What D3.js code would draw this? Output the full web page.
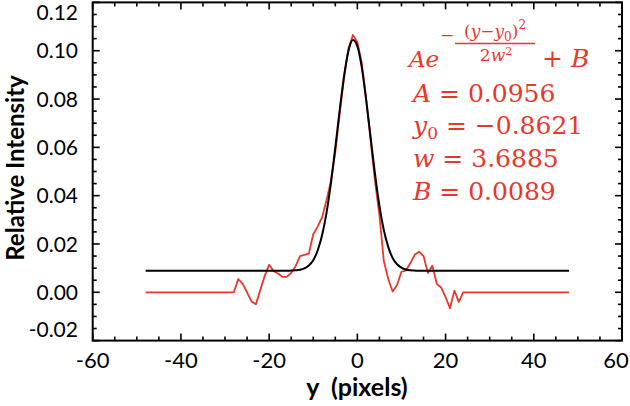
<!DOCTYPE html>
<html><head><meta charset="utf-8">
<script src="https://cdn.jsdelivr.net/npm/d3@7"></script>
<style>body{margin:0;background:#fff}svg{display:block}</style>
</head><body>
<script>
// ---- data ----
const xTickValues = [-60, -40, -20, 0, 20, 40, 60];
const xTickLabels = ["-60", "-40", "-20", "0", "20", "40", "60"];
const yTickValues = [-0.02, 0, 0.02, 0.04, 0.06, 0.08, 0.10, 0.12];
const yTickLabels = ["-0.02", "0.00", "0.02", "0.04", "0.06", "0.08", "0.10", "0.12"];

// measured profile (red)
const measuredY = [-48, -28, -27, -26, -25, -24, -23, -22, -21, -20, -19, -18, -17, -16, -15, -14, -13, -12, -11, -10,
  -9, -8, -7, -6, -5, -4, -3, -2, -1, 0, 1, 2, 3, 4, 5, 6, 7, 8, 9, 10,
  11, 12, 13, 14, 15, 16, 17, 18, 19, 20, 21, 22, 23, 24, 48];
const measuredI = [0, 0, 0.0055, 0.0035, 0.0000, -0.0038, -0.0050, 0.0010, 0.0068, 0.0114, 0.0088, 0.0078, 0.0064, 0.0064, 0.0080, 0.0108, 0.0150, 0.0155, 0.0160, 0.0240,
  0.0272, 0.0310, 0.0380, 0.0460, 0.0580, 0.0740, 0.0890, 0.1010, 0.1065, 0.1035, 0.0950, 0.0800, 0.0630, 0.0460, 0.0320, 0.0130, 0.0055, 0.0003, 0.0030, 0.0085,
  0.0090, 0.0120, 0.0155, 0.0168, 0.0150, 0.0080, 0.0110, 0.0035, 0.0020, -0.0020, -0.0066, 0.0007, -0.0040, 0, 0];

// fitted curve (black)
const fitY = [-48, -16, -15, -14, -13, -12, -11, -10, -9, -8, -7, -6, -5, -4, -3, -2, -1, 0, 1, 2, 3, 4, 5, 6, 7, 8, 9, 10, 11, 12, 13, 14, 48];
const fitI = [0.0089, 0.0089, 0.0090, 0.0091, 0.0093, 0.0099, 0.0111, 0.0133, 0.0173, 0.0236, 0.0328, 0.0451, 0.0599, 0.0755, 0.0897, 0.1001, 0.1044, 0.1019,
  0.0931, 0.0796, 0.0642, 0.0490, 0.0359, 0.0258, 0.0188, 0.0142, 0.0116, 0.0102, 0.0094, 0.0091, 0.0090, 0.0089, 0.0089];

const paramNames = ["A", "y", "w", "B"];
const paramValues = ["0.0956", "\u22120.8621", "3.6885", "0.0089"];

// ---- drawing ----
const W = 630, H = 406;
const red = "#e8382b";
const svg = d3.select("body").append("svg").attr("width", W).attr("height", H);

const x = d3.scaleLinear().domain([-60, 60]).range([92.7, 622]);
const y = d3.scaleLinear().domain([-0.02, 0.12]).range([340.6, 2.4]);

const font = "Lato, 'Open Sans', sans-serif";

// minor + major ticks
const xMinor = d3.range(-60, 60.01, 5);
const yMinor = d3.range(-0.02, 0.1201, 0.005);
const g = svg.append("g").attr("stroke", "#000").attr("stroke-width", 1.6);
xMinor.forEach(v => {
  const major = Math.abs(v % 20) < 1e-6;
  const L = major ? 7 : 4;
  g.append("line").attr("x1", x(v)).attr("x2", x(v)).attr("y1", y.range()[0]).attr("y2", y.range()[0] - L);
  g.append("line").attr("x1", x(v)).attr("x2", x(v)).attr("y1", y.range()[1]).attr("y2", y.range()[1] + L);
});
yMinor.forEach(v => {
  const k = Math.round(v * 1000);
  const major = k % 20 === 0;
  const L = major ? 7 : 4;
  g.append("line").attr("y1", y(v)).attr("y2", y(v)).attr("x1", x.range()[0]).attr("x2", x.range()[0] + L);
  g.append("line").attr("y1", y(v)).attr("y2", y(v)).attr("x1", x.range()[1]).attr("x2", x.range()[1] - L);
});

// frame
svg.append("rect").attr("x", x.range()[0]).attr("y", y.range()[1])
  .attr("width", x.range()[1] - x.range()[0]).attr("height", y.range()[0] - y.range()[1])
  .attr("fill", "none").attr("stroke", "#000").attr("stroke-width", 2);

// tick labels
svg.append("g").selectAll("text").data(xTickValues).join("text")
  .attr("x", d => Math.min(616, x(d))).attr("y", 368)
  .attr("text-anchor", "middle").attr("font-family", font).attr("font-size", 22).attr("fill", "#000")
  .text((d, i) => xTickLabels[i]);
svg.append("g").selectAll("text").data(yTickValues).join("text")
  .attr("x", 78).attr("y", d => Math.min(329, Math.max(12, y(d))))
  .attr("dy", "0.36em")
  .attr("text-anchor", "end").attr("font-family", font).attr("font-size", 21).attr("fill", "#000")
  .text((d, i) => yTickLabels[i]);

// axis titles
svg.append("text").attr("x", 357).attr("y", 396).attr("text-anchor", "middle")
  .attr("font-family", font).attr("font-weight", "bold").attr("font-size", 25).attr("xml:space", "preserve")
  .text("y  (pixels)");
svg.append("text").attr("transform", "translate(24,168) rotate(-90)").attr("text-anchor", "middle")
  .attr("font-family", font).attr("font-weight", "bold").attr("font-size", 24)
  .text("Relative Intensity");

// lines
const line = d3.line().x(d => x(d[0])).y(d => y(d[1]));
svg.append("path").datum(measuredY.map((v, i) => [v, measuredI[i]]))
  .attr("d", line).attr("fill", "none").attr("stroke", red).attr("stroke-width", 1.8).attr("stroke-linejoin", "round");
svg.append("path").datum(fitY.map((v, i) => [v, fitI[i]]))
  .attr("d", line.curve(d3.curveMonotoneX)).attr("fill", "none").attr("stroke", "#000").attr("stroke-width", 2);

// annotation (formula)
const serif = "'DejaVu Serif', serif";
const ann = svg.append("g").attr("fill", red).attr("font-family", serif);
ann.append("text").attr("x", 409).attr("y", 67).attr("font-size", 23).attr("font-style", "italic").text("Ae");
ann.append("text").attr("x", 440).attr("y", 41).attr("font-size", 17).text("\u2212");
const num = ann.append("text").attr("x", 495).attr("y", 37).attr("font-size", 17).attr("text-anchor", "middle");
num.append("tspan").text("(");
num.append("tspan").attr("font-style", "italic").text("y");
num.append("tspan").text("\u2212");
num.append("tspan").attr("font-style", "italic").text("y");
num.append("tspan").attr("font-size", 12).attr("dy", 4).text("0");
num.append("tspan").attr("dy", -4).text(")");
num.append("tspan").attr("font-size", 12).attr("dy", -8).text("2");
ann.append("line").attr("x1", 455).attr("x2", 535).attr("y1", 43.5).attr("y2", 43.5).attr("stroke", red).attr("stroke-width", 1.4);
const den = ann.append("text").attr("x", 496).attr("y", 61).attr("font-size", 17).attr("text-anchor", "middle");
den.append("tspan").text("2");
den.append("tspan").attr("font-style", "italic").text("w");
den.append("tspan").attr("font-size", 11).attr("dy", -6).text("2");
const pb = ann.append("text").attr("x", 542).attr("y", 67).attr("font-size", 25);
pb.append("tspan").text("+ ");
pb.append("tspan").attr("font-style", "italic").text("B");

const baseLines = [102, 134, 167, 200];
paramNames.forEach((p, i) => {
  const t = ann.append("text").attr("x", 413).attr("y", baseLines[i]).attr("font-size", 25);
  t.append("tspan").attr("font-style", "italic").text(p);
  if (p === "y") t.append("tspan").attr("font-size", 17).attr("dy", 5).text("0");
  t.append("tspan").attr("dy", p === "y" ? -5 : 0).text(" = " + paramValues[i]);
});
</script>
</body></html>
